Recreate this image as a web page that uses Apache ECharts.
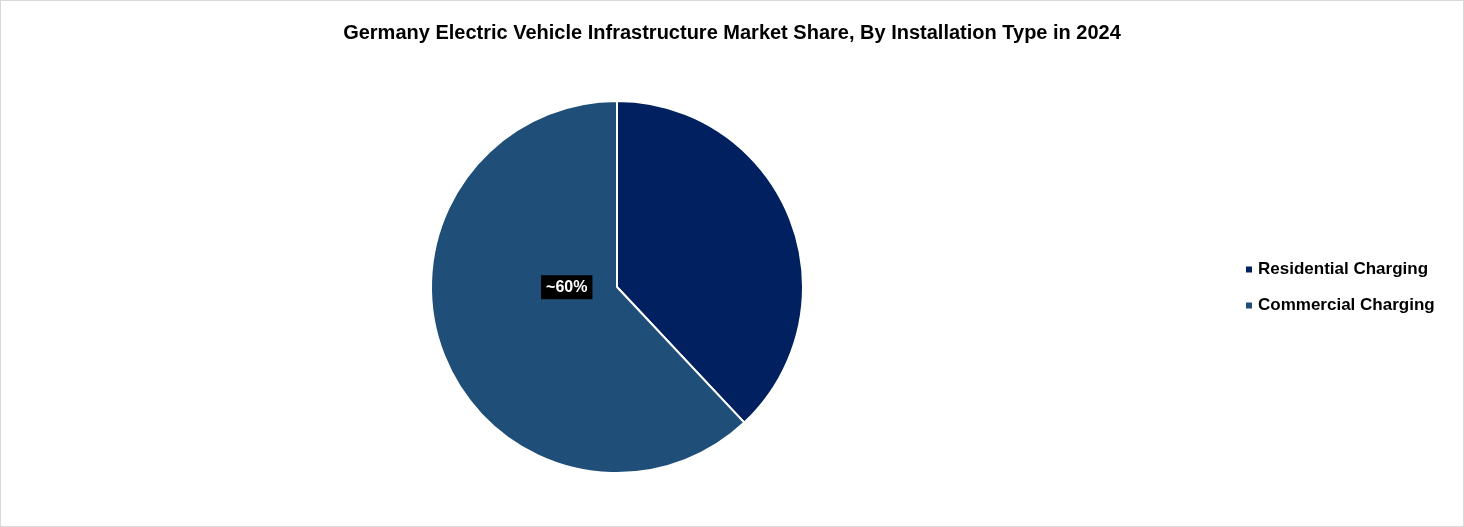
<!DOCTYPE html>
<html><head><meta charset="utf-8">
<script src="https://cdn.jsdelivr.net/npm/echarts@6/dist/echarts.min.js"></script>
<style>html,body{margin:0;padding:0;background:#fff}#c{width:1462px;height:525px;border:1px solid #d9d9d9}</style>
</head><body><div id="c"></div>
<script>
const categories = ["Residential Charging", "Commercial Charging"];
const values = [38, 62];
const labels = ["", "~60%"];
const colors = ["#002060", "#1F4E79"];
const chart = echarts.init(document.getElementById('c'));
chart.setOption({
  animation: false,
  title: {text: "Germany Electric Vehicle Infrastructure Market Share, By Installation Type in 2024", left: 'center', top: 17,
    textStyle: {fontFamily: 'Liberation Sans', fontSize: 20, fontWeight: 'bold', color: '#000'}},
  legend: {orient: 'vertical', left: 1238, top: 255, itemWidth: 8, itemHeight: 8, itemGap: 19, icon: 'rect',
    textStyle: {fontFamily: 'Liberation Sans', fontSize: 17, fontWeight: 'bold', color: '#000'}, data: categories},
  series: [{
    type: 'pie', center: [616, 286], radius: 186, startAngle: 90, clockwise: true,
    itemStyle: {borderColor: '#fff', borderWidth: 2},
    label: {show: true, position: 'inside', formatter: p => labels[p.dataIndex], offset: [39, -35],
      backgroundColor: '#000', color: '#fff', fontFamily: 'Liberation Sans', fontSize: 16, fontWeight: 'bold', padding: [4, 5]},
    labelLine: {show: false},
    data: categories.map((c, i) => ({name: c, value: values[i], itemStyle: {color: colors[i]},
      label: i === 0 ? {show: false} : {}}))
  }]
});
</script></body></html>
